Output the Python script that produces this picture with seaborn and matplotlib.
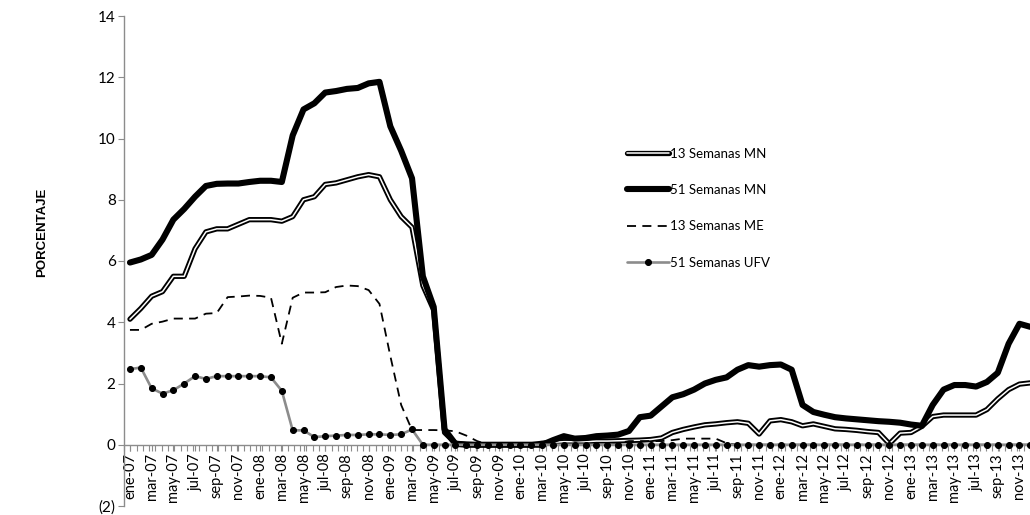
import numpy as np
import matplotlib.pyplot as plt
import matplotlib.patheffects as pe
import seaborn as sns

# Monthly observations, ene-07 (0) to dic-13 (83)
meses = np.arange(84)

mn_13 = [4.1, 4.45, 4.85, 5.0, 5.5, 5.5, 6.4, 6.95, 7.05, 7.05, 7.2, 7.35,
         7.35, 7.35, 7.3, 7.45, 8.0, 8.1, 8.5, 8.55, 8.65, 8.75, 8.82, 8.75,
         8.0, 7.45, 7.1, 5.2, 4.4, 0.4, 0.05, 0.02, 0.0, 0.0, 0.0, 0.0,
         0.0, 0.0, 0.05, 0.08, 0.1, 0.1, 0.1, 0.12, 0.12, 0.13, 0.14, 0.15,
         0.17, 0.22, 0.4, 0.5, 0.58, 0.65, 0.68, 0.72, 0.75, 0.7, 0.35, 0.78,
         0.82, 0.75, 0.62, 0.68, 0.6, 0.52, 0.5, 0.47, 0.43, 0.4, 0.03, 0.38,
         0.4, 0.6, 0.92, 0.97, 0.97, 0.97, 0.97, 1.15, 1.5, 1.8, 1.98, 2.02]

mn_51 = [5.95, 6.05, 6.2, 6.7, 7.35, 7.7, 8.1, 8.45, 8.52, 8.53, 8.53, 8.58,
         8.62, 8.62, 8.58, 10.1, 10.95, 11.15, 11.5, 11.55, 11.62, 11.65, 11.8, 11.85,
         10.4, 9.6, 8.7, 5.5, 4.5, 0.5, 0.03, 0.0, 0.0, 0.0, 0.0, 0.0,
         0.0, 0.0, 0.0, 0.15, 0.28, 0.2, 0.22, 0.28, 0.3, 0.33, 0.45, 0.9,
         0.95, 1.25, 1.55, 1.65, 1.8, 2.0, 2.12, 2.2, 2.45, 2.6, 2.55, 2.6,
         2.62, 2.45, 1.3, 1.07, 0.98, 0.9, 0.86, 0.83, 0.8, 0.77, 0.75, 0.72,
         0.66, 0.62, 1.3, 1.8, 1.95, 1.95, 1.9, 2.05, 2.35, 3.3, 3.95, 3.85]

me_13 = [3.75, 3.75, 3.95, 4.02, 4.12, 4.12, 4.12, 4.28, 4.3, 4.82, 4.84, 4.87,
         4.86, 4.8, 3.3, 4.8, 4.97, 4.97, 4.98, 5.15, 5.2, 5.18, 5.05, 4.6,
         2.9, 1.3, 0.48, 0.48, 0.48, 0.47, 0.44, 0.3, 0.12, 0.0, 0.0, 0.0,
         0.0, 0.0, 0.0, 0.0, 0.0, 0.0, 0.0, 0.0, 0.0, 0.05, 0.12, 0.12,
         0.12, 0.12, 0.15, 0.2, 0.2, 0.2, 0.2, 0.05, 0.0, 0.0, 0.0, 0.0,
         0.0, 0.0, 0.0, 0.0, 0.0, 0.0, 0.0, 0.0, 0.0, 0.0, 0.0, 0.0,
         0.0, 0.0, 0.0, 0.0, 0.0, 0.0, 0.0, 0.0, 0.0, 0.0, 0.0, 0.0]

ufv_51 = [2.47, 2.52, 1.84, 1.67, 1.78, 2.0, 2.24, 2.15, 2.24, 2.24, 2.24, 2.24,
          2.24, 2.2, 1.76, 0.47, 0.47, 0.25, 0.28, 0.3, 0.32, 0.32, 0.34, 0.34,
          0.32, 0.34, 0.5, 0.0, 0.0, 0.0, 0.0, 0.0, 0.0, 0.0, 0.0, 0.0,
          0.0, 0.0, 0.0, 0.0, 0.0, 0.0, 0.0, 0.0, 0.0, 0.0, 0.0, 0.0,
          0.0, 0.0, 0.0, 0.0, 0.0, 0.0, 0.0, 0.0, 0.0, 0.0, 0.0, 0.0,
          0.0, 0.0, 0.0, 0.0, 0.0, 0.0, 0.0, 0.0, 0.0, 0.0, 0.0, 0.0,
          0.0, 0.0, 0.0, 0.0, 0.0, 0.0, 0.0, 0.0, 0.0, 0.0, 0.0, 0.0]

tick_labels = ["ene-07", "mar-07", "may-07", "jul-07", "sep-07", "nov-07",
               "ene-08", "mar-08", "may-08", "jul-08", "sep-08", "nov-08",
               "ene-09", "mar-09", "may-09", "jul-09", "sep-09", "nov-09",
               "ene-10", "mar-10", "may-10", "jul-10", "sep-10", "nov-10",
               "ene-11", "mar-11", "may-11", "jul-11", "sep-11", "nov-11",
               "ene-12", "mar-12", "may-12", "jul-12", "sep-12", "nov-12",
               "ene-13", "mar-13", "may-13", "jul-13", "sep-13", "nov-13"]
y_ticks = [-2, 0, 2, 4, 6, 8, 10, 12, 14]
y_labels = ["(2)", "0", "2", "4", "6", "8", "10", "12", "14"]

sns.set_style("white")
plt.rcParams['font.family'] = ['Lato', 'DejaVu Sans']
plt.rcParams['text.color'] = 'black'

fig = plt.figure(figsize=(10.3, 5.15), dpi=100)
ax = fig.add_axes([124 / 1030, 9 / 515, 906 / 1030, 490 / 515])

# Series
sns.lineplot(x=meses, y=mn_13, ax=ax, color="white", lw=1.1, zorder=3,
             label="13 Semanas MN",
             path_effects=[pe.Stroke(linewidth=3.8, foreground="black"), pe.Normal()])
sns.lineplot(x=meses, y=mn_51, ax=ax, color="black", lw=4.4, zorder=4,
             label="51 Semanas MN")
sns.lineplot(x=meses, y=me_13, ax=ax, color="black", lw=1.3, zorder=5,
             linestyle=(0, (5, 3.5)), label="13 Semanas ME")
sns.lineplot(x=meses, y=ufv_51, ax=ax, color="#8c8c8c", lw=1.9, zorder=6,
             marker="o", markersize=4.3, markerfacecolor="black",
             markeredgecolor="black", label="51 Semanas UFV")

# Axes
ax.set_xlim(-0.55, 82.8)
ax.set_ylim(-2, 14)
ax.set_yticks(y_ticks)
ax.set_yticklabels(y_labels)
ax.set_xticks(np.arange(0, 84, 2))
ax.set_xticklabels(tick_labels)
ax.set_xticks(np.arange(-0.55, 83, 0.58), minor=True)
ax.tick_params(axis="both", which="both", direction="out", length=4,
               width=0.8, color="#8c8c8c", pad=2, labelcolor="black")
ax.tick_params(axis="x", which="both", bottom=True)
ax.tick_params(axis="x", which="major", labelrotation=90, labelsize=10.5)
ax.tick_params(axis="y", left=True, labelsize=11)

ax.spines["bottom"].set_position(("data", 0))
for s in ["top", "right"]:
    ax.spines[s].set_visible(False)
for s in ["bottom", "left"]:
    ax.spines[s].set_color("#8c8c8c")
    ax.spines[s].set_linewidth(1.0)
ax.set_xlabel("")
ax.set_ylabel("")

fig.text(42 / 1030, 1 - 232 / 515, "PORCENTAJE", rotation=90,
         ha="center", va="center", fontsize=9.5, fontweight="bold",
         family="Liberation Sans", color="black")

ax.legend(loc="upper left", bbox_to_anchor=(620 / 1030, 1 - 141 / 515),
          bbox_transform=fig.transFigure, frameon=False, fontsize=9.5,
          handlelength=3.2, handletextpad=0.1, labelspacing=1.85,
          borderpad=0)

plt.savefig("out.png", dpi=100)
